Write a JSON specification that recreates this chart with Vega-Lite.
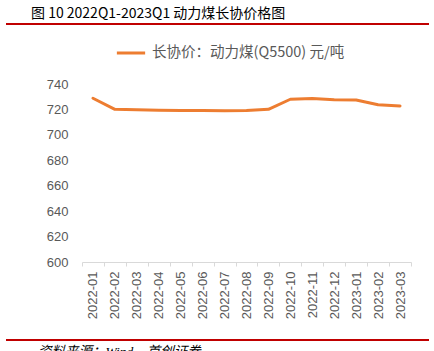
{
  "$schema": "https://vega.github.io/schema/vega-lite/v6.json",
  "padding": {"top": 7, "left": 0, "right": 0, "bottom": 0},
  "background": "white",
  "title": {"text": "图  10 2022Q1-2023Q1 动力煤长协价格图", "anchor": "start", "dx": 31, "fontSize": 14, "font": "Noto Sans CJK SC", "fontWeight": "normal", "color": "#000000", "offset": 2},
  "spacing": 12,
  "resolve": {"scale": {"x": "independent", "y": "independent", "color": "independent"}},
  "config": {"view": {"stroke": null}, "font": "Noto Sans CJK SC"},
  "vconcat": [
    {
      "width": 423, "height": 1,
      "data": {"values": [{"v": 0}]},
      "mark": {"type": "rule", "color": "#c00000", "strokeWidth": 2},
      "encoding": {"y": {"field": "v", "type": "quantitative", "axis": null, "scale": {"domain": [0, 1]}}}
    },
    {
      "width": 423, "height": 178,
      "data": {"values": [
        {"month": "2022-01", "price": 728.8},
        {"month": "2022-02", "price": 720.1},
        {"month": "2022-03", "price": 719.8},
        {"month": "2022-04", "price": 719.4},
        {"month": "2022-05", "price": 719.2},
        {"month": "2022-06", "price": 719.1},
        {"month": "2022-07", "price": 718.9},
        {"month": "2022-08", "price": 719.1},
        {"month": "2022-09", "price": 720.1},
        {"month": "2022-10", "price": 728.0},
        {"month": "2022-11", "price": 728.6},
        {"month": "2022-12", "price": 727.7},
        {"month": "2023-01", "price": 727.4},
        {"month": "2023-02", "price": 723.7},
        {"month": "2023-03", "price": 722.7}
      ]},
      "mark": {"type": "line", "strokeWidth": 3, "strokeJoin": "round", "strokeCap": "round"},
      "encoding": {
        "x": {
          "field": "month", "type": "ordinal", "bandPosition": 0.5,
          "scale": {"type": "band", "range": [76, 405], "paddingInner": 0, "paddingOuter": 0},
          "axis": {"title": null, "labelAngle": -90, "labelFont": "Liberation Sans", "labelFontSize": 13, "labelColor": "#595959", "labelPadding": 5, "tickBand": "extent", "tickSize": 4, "tickColor": "#d9d9d9", "domainColor": "#d9d9d9", "grid": false}
        },
        "y": {
          "field": "price", "type": "quantitative",
          "scale": {"domain": [600, 740], "nice": false, "zero": false},
          "axis": {"title": null, "offset": -76, "labelPadding": 14, "domain": false, "ticks": false, "grid": false, "values": [600, 620, 640, 660, 680, 700, 720, 740], "labelFont": "Liberation Sans", "labelFontSize": 13, "labelColor": "#595959"}
        },
        "color": {
          "datum": "长协价：动力煤(Q5500) 元/吨",
          "scale": {"range": ["#ed7d31"]},
          "legend": {"title": null, "orient": "none", "legendX": 109, "legendY": -47, "symbolType": "stroke", "symbolStrokeWidth": 3, "symbolSize": 800, "labelFontSize": 14.5, "labelLimit": 400, "labelColor": "#595959", "labelFont": "Noto Sans CJK SC", "labelOffset": 5}
        }
      }
    },
    {
      "width": 423, "height": 9,
      "data": {"values": [{"v": 0}]},
      "mark": {"type": "rule", "color": "#c00000", "strokeWidth": 2},
      "encoding": {"y": {"field": "v", "type": "quantitative", "axis": null, "scale": {"domain": [0, 1]}}},
      "title": {"text": "资料来源：Wind，首创证券", "orient": "bottom", "anchor": "start", "dx": 33, "fontSize": 13.5, "fontStyle": "italic", "fontWeight": "normal", "font": "Liberation Serif, Noto Sans CJK SC", "color": "#000000", "offset": 4}
    }
  ]
}
